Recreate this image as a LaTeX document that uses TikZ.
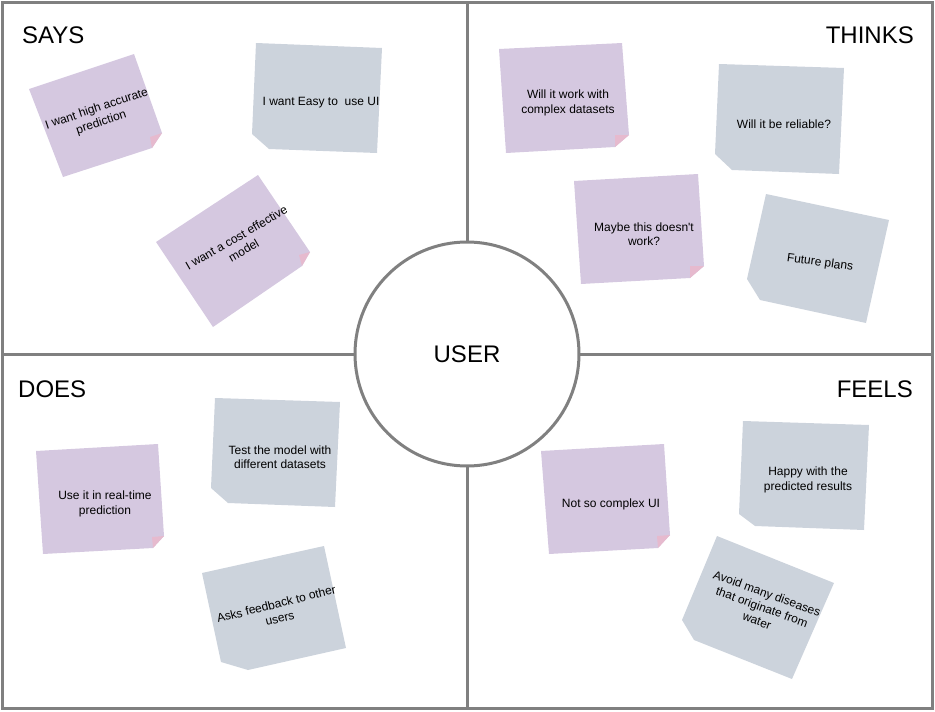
\documentclass[tikz,border=0pt]{standalone}
\usepackage{fontspec}
\setmainfont{Liberation Sans}[Ligatures=TeXOff]
\usepackage{tikz}

\definecolor{framegray}{HTML}{808080}
\definecolor{lavender}{HTML}{D5C8E0}
\definecolor{foldpink}{HTML}{E6BACE}
\definecolor{notegray}{HTML}{CCD3DC}

\tikzset{
  pinknote/.style={fill=lavender},
  greynote/.style={fill=notegray},
  fold/.style={fill=foldpink},
  notetext/.style={align=center,inner sep=0pt,font=\fontsize{12}{14.5}\selectfont},
  quadlabel/.style={inner sep=0pt,font=\fontsize{24}{28}\selectfont},
  frameline/.style={draw=framegray,line width=3pt}
}

\begin{document}
\begin{tikzpicture}[x=1pt,y=-1pt]
  \useasboundingbox (0,0) rectangle (935,712);
  \draw[frameline] (2,2) rectangle (932,708);
  \draw[frameline] (467,2) -- (467,708) (2,354) -- (932,354);
  \node[circle,frameline,fill=white,minimum size=224pt,inner sep=0pt,
    font=\fontsize{24}{28}\selectfont] (user) at (467,354) {USER};
  \node[quadlabel,anchor=base west] (says) at (22,43) {SAYS};
  \node[quadlabel,anchor=base east] (thinks) at (914,43) {THINKS};
  \node[quadlabel,anchor=base west] (does) at (18,397) {DOES};
  \node[quadlabel,anchor=base east] (feels) at (913,397) {FEELS};
  \fill[pinknote] (29,89) -- (134,54) -- (162,133) -- (152,148) -- (63,177) -- cycle;
  \fill[fold] (162,133) -- (152,148) -- (150,137) -- cycle;
  \node[notetext,rotate=18.5] (accurate) at (99,116) {I want high accurate\\prediction};
  \fill[greynote] (256,43) -- (382,48) -- (377,153) -- (269,149) -- (252,134) -- cycle;
  \node[notetext] (easyui) at (321,103) {I want Easy to~ use UI};
  \fill[pinknote] (156,242) -- (258,175) -- (310,252) -- (302,266) -- (213,327) -- cycle;
  \fill[fold] (310,252) -- (302,266) -- (299,255) -- cycle;
  \node[notetext,rotate=30] (costmodel) at (240,244) {I want a cost effective\\model};
  \fill[pinknote] (499,49) -- (622,43) -- (629,135) -- (615,147) -- (506,153) -- cycle;
  \fill[fold] (629,135) -- (615,147) -- (615,135) -- cycle;
  \node[notetext] (datasets) at (568,103) {Will it work with\\complex datasets};
  \fill[greynote] (719,64) -- (844,68) -- (839,174) -- (732,170) -- (715,154) -- cycle;
  \node[notetext] (reliable) at (784,124) {Will it be reliable?};
  \fill[pinknote] (574,181) -- (698,174) -- (704,266) -- (690,278) -- (581,284) -- cycle;
  \fill[fold] (704,266) -- (690,278) -- (690,266) -- cycle;
  \node[notetext] (maybe) at (644,234) {Maybe this doesn't\\work?};
  \fill[greynote] (766,194) -- (889,220) -- (866,323) -- (760,300) -- (747,279) -- cycle;
  \node[notetext,rotate=-8] (future) at (820,263) {Future plans};
  \fill[pinknote] (36,451) -- (158,444) -- (164,536) -- (153,548) -- (43,554) -- cycle;
  \fill[fold] (164,536) -- (153,548) -- (152,537) -- cycle;
  \node[notetext] (realtime) at (105,504) {Use it in real-time\\prediction};
  \fill[greynote] (215,398) -- (340,402) -- (335,507) -- (228,503) -- (211,488) -- cycle;
  \node[notetext] (testmodel) at (280,457) {Test the model with\\different datasets};
  \fill[greynote] (202,573) -- (324,546) -- (346,648) -- (248,670) -- (221,662) -- cycle;
  \node[notetext,rotate=14] (feedback) at (278,611) {Asks feedback to other\\users};
  \fill[pinknote] (541,451) -- (664,444) -- (670,535) -- (658,548) -- (549,554) -- cycle;
  \fill[fold] (670,535) -- (658,548) -- (657,536) -- cycle;
  \node[notetext] (complexui) at (611,504) {Not so complex UI};
  \fill[greynote] (743,421) -- (869,425) -- (864,530) -- (755,526) -- (739,514) -- cycle;
  \node[notetext] (happy) at (808,480) {Happy with the\\predicted results};
  \fill[greynote] (717,536) -- (834,583) -- (792,679) -- (694,640) -- (682,620) -- cycle;
  \node[notetext,rotate=-20] (diseases) at (762,607) {Avoid many diseases\\that originate from\\water};
\end{tikzpicture}
\end{document}
